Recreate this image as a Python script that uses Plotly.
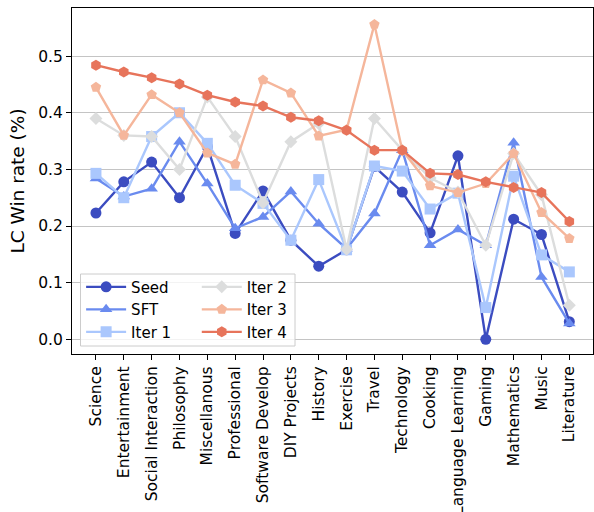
import plotly.graph_objects as go

categories = ["Science", "Entertainment", "Social Interaction", "Philosophy", "Miscellanous",
              "Professional", "Software Develop", "DIY Projects", "History", "Exercise", "Travel",
              "Technology", "Cooking", "Language Learning", "Gaming", "Mathematics", "Music", "Literature"]

seed  = [0.223, 0.278, 0.313, 0.250, 0.340, 0.187, 0.262, 0.175, 0.129, 0.158, 0.305, 0.260, 0.188, 0.324, 0.000, 0.212, 0.185, 0.031]
sft   = [0.284, 0.252, 0.266, 0.349, 0.275, 0.196, 0.216, 0.261, 0.204, 0.160, 0.222, 0.334, 0.166, 0.194, 0.166, 0.347, 0.110, 0.028]
iter1 = [0.293, 0.250, 0.358, 0.400, 0.346, 0.272, 0.240, 0.175, 0.282, 0.158, 0.306, 0.297, 0.230, 0.258, 0.056, 0.288, 0.149, 0.119]
iter2 = [0.390, 0.360, 0.358, 0.300, 0.428, 0.358, 0.241, 0.349, 0.381, 0.159, 0.390, 0.334, 0.285, 0.260, 0.166, 0.328, 0.255, 0.060]
iter3 = [0.445, 0.360, 0.432, 0.400, 0.329, 0.309, 0.458, 0.435, 0.359, 0.370, 0.556, 0.334, 0.271, 0.259, 0.275, 0.328, 0.224, 0.178]
iter4 = [0.484, 0.472, 0.462, 0.451, 0.431, 0.419, 0.412, 0.392, 0.386, 0.369, 0.334, 0.334, 0.293, 0.291, 0.278, 0.268, 0.259, 0.208]

series_names = ["Seed", "SFT", "Iter 1", "Iter 2", "Iter 3", "Iter 4"]
series_vals = [seed, sft, iter1, iter2, iter3, iter4]
colors = ["#3b4cc0", "#6a8bef", "#aac7fd", "#dcdddd", "#f5b69b", "#e7745b"]
symbols = ["circle", "triangle-up", "square", "diamond", "pentagon", "hexagon"]
legends = ["legend", "legend", "legend", "legend2", "legend2", "legend2"]

fig = go.Figure()
for name, vals, col, sym, lg in zip(series_names, series_vals, colors, symbols, legends):
    fig.add_trace(go.Scatter(
        x=categories, y=vals, name=name, mode="lines+markers",
        line=dict(color=col, width=2.4),
        marker=dict(color=col, symbol=sym, size=11 if sym != "diamond" else 10),
        legend=lg,
    ))

font_family = "DejaVu Sans"
legend_common = dict(
    bgcolor="rgba(0,0,0,0)", borderwidth=0,
    font=dict(family=font_family, size=15, color="black"),
    xanchor="left", yanchor="top", tracegroupgap=0, itemwidth=40,
)

# plot area in page pixels: x 72..593, y 8..354
fig.update_layout(
    width=594, height=512,
    margin=dict(l=72, r=1, t=8, b=158, autoexpand=False),
    plot_bgcolor="white", paper_bgcolor="white",
    font=dict(family=font_family, size=15.5, color="black"),
    showlegend=True,
    legend=dict(x=0.0175, y=0.241, **legend_common),
    legend2=dict(x=0.2395, y=0.241, **legend_common),
    shapes=[dict(
        type="rect", xref="paper", yref="paper",
        x0=(80.5 - 72) / 521, x1=(295 - 72) / 521,
        y0=(354 - 346) / 346, y1=(354 - 274) / 346,
        line=dict(color="#cccccc", width=1), fillcolor="rgba(255,255,255,0.8)",
        layer="above",
    )],
)

fig.update_xaxes(
    type="category", range=[-0.86, 17.85], automargin=False,
    tickangle=-90, ticks="outside", ticklen=5, tickcolor="black",
    showline=True, linecolor="black", linewidth=1.2, mirror=True,
    showgrid=False, tickfont=dict(size=15.5, family=font_family),
)
fig.update_yaxes(
    range=[-0.026, 0.585], automargin=False,
    tickvals=[0.0, 0.1, 0.2, 0.3, 0.4, 0.5], ticktext=["0.0", "0.1", "0.2", "0.3", "0.4", "0.5"],
    ticks="outside", ticklen=5, tickcolor="black",
    showline=True, linecolor="black", linewidth=1.2, mirror=True,
    showgrid=True, gridcolor="#c4c4c4", gridwidth=1.3, zeroline=False,
    tickfont=dict(size=15.5, family=font_family),
    title=dict(text="LC Win rate (%)", font=dict(size=18.5, family=font_family), standoff=8),
)

fig.write_html(
    "out.html",
    config={"displayModeBar": False},
    post_script="document.body.style.margin='0';document.body.style.overflow='hidden';"
                "document.documentElement.style.overflow='hidden';",
)
